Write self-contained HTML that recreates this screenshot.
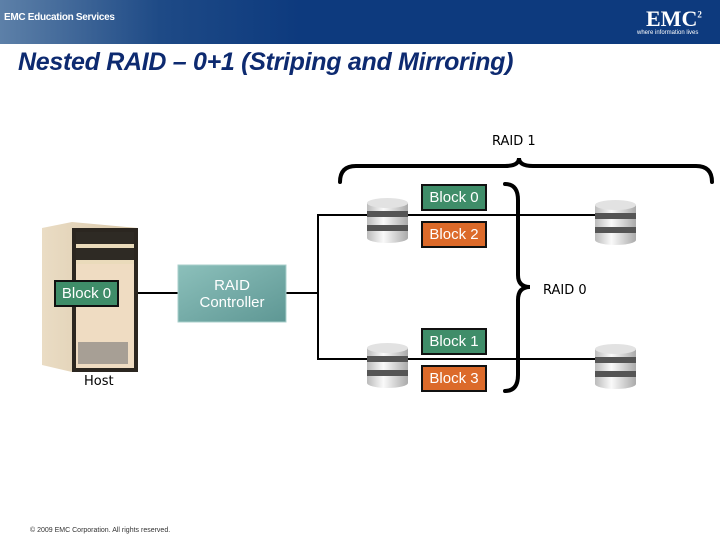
<!DOCTYPE html>
<html><head><style>
body{margin:0;width:720px;height:540px;position:relative;background:#fff;font-family:"Liberation Sans",sans-serif;overflow:hidden}
.abs{position:absolute}
.blk{position:absolute;border:2px solid #111;color:#fff;font-size:15px;line-height:23px;text-align:center;width:62px;box-sizing:content-box}
.g{background:#3f8d69}.o{background:#dc6a2a}
</style></head><body>
<div class="abs" style="left:0;top:0;width:720px;height:44px;background:linear-gradient(90deg,#5d80a8 0,#1e4a86 160px,#0d3a7e 300px,#0d3a7e 100%)"></div>
<div class="abs" style="left:4px;top:12px;color:#fff;font-size:10px;font-weight:bold;letter-spacing:-0.3px">EMC Education Services</div>
<div class="abs" style="left:646px;top:6px;color:#fff;font-family:'Liberation Serif',serif;font-size:22px;font-weight:bold">EMC<sup style="font-size:9px">2</sup></div>
<div class="abs" style="left:637px;top:30px;color:#fff;font-size:6px">where information lives</div>
<div class="abs" style="left:18px;top:48px;color:#0d2a70;font-size:25px;font-style:italic;font-weight:bold;letter-spacing:-0.3px">Nested RAID – 0+1 (Striping and Mirroring)</div>
<div class="abs" style="left:492px;top:134px;font-size:13px;font-family:'DejaVu Sans',sans-serif">RAID 1</div>
<div class="abs" style="left:543px;top:283px;font-size:13px;font-family:'DejaVu Sans',sans-serif">RAID 0</div>
<div class="abs" style="left:84px;top:374px;font-size:13px;font-family:'DejaVu Sans',sans-serif">Host</div>
<div class="abs" style="left:30px;top:527px;font-size:7px;color:#333">© 2009 EMC Corporation. All rights reserved.</div>
<svg class="abs" style="left:0;top:0" width="720" height="540">
<defs><linearGradient id="hg" x1="0" x2="1"><stop offset="0" stop-color="#eadcc4"/><stop offset="1" stop-color="#d8c7a8"/></linearGradient>
<linearGradient id="dg" x1="0" x2="1"><stop offset="0" stop-color="#bbb"/><stop offset=".4" stop-color="#fafafa"/><stop offset="1" stop-color="#aaa"/></linearGradient>
<linearGradient id="cg" x1="0" y1="0" x2="1" y2="1"><stop offset="0" stop-color="#8cc0bb"/><stop offset="1" stop-color="#5e9794"/></linearGradient>
<g id="d"><rect x="0" y="6" width="41" height="35" fill="url(#dg)"/><ellipse cx="20.5" cy="41" rx="20.5" ry="5" fill="url(#dg)"/><ellipse cx="20.5" cy="6" rx="20.5" ry="5" fill="#e2e2e2"/><rect x="0" y="14" width="41" height="6" fill="#555"/><rect x="0" y="28" width="41" height="6" fill="#555"/></g>
</defs>
<g stroke="#000" stroke-width="2" fill="none">
<line x1="133" y1="293" x2="178" y2="293"/>
<line x1="285" y1="293" x2="318" y2="293"/>
<polyline points="600,215 318,215 318,359 600,359"/>
</g>
<g stroke="#000" stroke-width="4" fill="none" stroke-linecap="round">
<path d="M340,182 Q340,166 356,166 L505,166 Q519,166 519,158 Q519,166 533,166 L696,166 Q712,166 712,182"/>
<path d="M505,184 Q518,184 518,200 L518,275 Q518,287 530,287 Q518,287 518,300 L518,375 Q518,391 505,391"/>
</g>
<polygon points="42,228 72,222 138,228 138,372 72,372 42,365" fill="url(#hg)"/>
<rect x="72" y="228" width="66" height="144" fill="#2b2620"/>
<rect x="76" y="232" width="58" height="136" fill="#efdcc2"/>
<rect x="76" y="232" width="58" height="32" fill="#2e2a24"/>
<rect x="76" y="244" width="58" height="4" fill="#eadbbb"/>
<rect x="76" y="260" width="58" height="4" fill="#eadbbb"/>
<rect x="78" y="342" width="50" height="22" fill="#777" opacity=".6"/>
<rect x="178" y="265" width="108" height="57" fill="url(#cg)" stroke="#a9cfcb"/>
<text x="232" y="290" text-anchor="middle" font-size="15" fill="#fff" font-family="Liberation Sans">RAID</text>
<text x="232" y="307" text-anchor="middle" font-size="15" fill="#fff" font-family="Liberation Sans">Controller</text>
<use href="#d" x="367" y="197"/><use href="#d" x="595" y="199"/><use href="#d" x="367" y="342"/><use href="#d" x="595" y="343"/>
</svg>
<div class="blk g" style="left:54px;top:280px;width:61px">Block 0</div>
<div class="blk g" style="left:421px;top:184px">Block 0</div>
<div class="blk o" style="left:421px;top:221px">Block 2</div>
<div class="blk g" style="left:421px;top:328px">Block 1</div>
<div class="blk o" style="left:421px;top:365px">Block 3</div>
</body></html>
